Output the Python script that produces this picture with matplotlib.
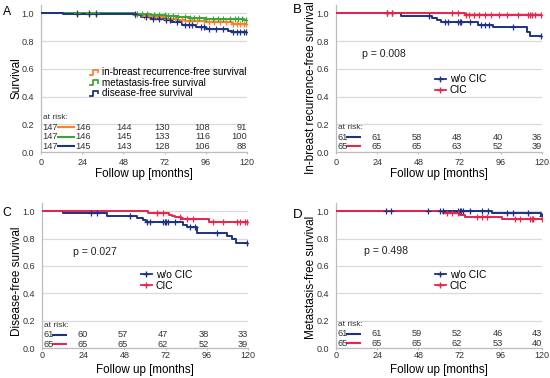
import matplotlib
matplotlib.use("Agg")
import matplotlib.pyplot as plt
import numpy as np
from matplotlib.lines import Line2D
from matplotlib.legend_handler import HandlerBase

plt.rcParams['font.family'] = ['Liberation Sans', 'DejaVu Sans']

# colours
ORANGE = '#ff7f2a'
GREEN = '#3aa637'
BLUE = '#1c3282'
RED = '#e8254f'

# ---- panel A : whole cohort ----
ibr_t = [0, 54, 58, 65, 72, 79, 84, 96, 111]
ibr_s = [1.0, 0.988, 0.978, 0.970, 0.962, 0.955, 0.946, 0.940, 0.922]
ibr_c = [21, 28, 32, 55, 60, 63, 67, 70, 73, 75, 78, 82, 86, 88, 91, 95, 98, 101, 104, 108, 112, 114, 116, 118, 119.5]
mfs_t = [0, 55, 64, 73, 80, 87, 96, 103, 118]
mfs_s = [1.0, 0.993, 0.986, 0.979, 0.972, 0.966, 0.960, 0.956, 0.950]
mfs_c = [21, 28, 32, 56, 59, 62, 66, 69, 72, 74, 77, 80, 84, 87, 89, 92, 96, 100, 103, 106, 110, 113, 115, 117, 119.5]
dfs_t = [0, 13, 56, 58, 64, 72, 76, 82, 90, 96, 109, 111]
dfs_s = [1.0, 0.993, 0.986, 0.973, 0.959, 0.952, 0.938, 0.918, 0.900, 0.890, 0.872, 0.862]
dfs_c = [21, 28, 32, 55, 61, 65, 69, 73, 75, 79, 84, 86, 88, 93, 95, 98, 102, 106, 112, 114, 116, 118, 119.5]
a_labels = ['in-breast recurrence-free survival', 'metastasis-free survival', 'disease-free survival']
a_risk = [[147, 146, 144, 130, 108, 91],
          [147, 146, 145, 133, 116, 100],
          [147, 145, 143, 128, 106, 88]]

# ---- panel B : in-breast recurrence-free ----
b_wo_t = [0, 38, 55.7, 58.6, 61, 82.7, 91.5, 111, 113]
b_wo_s = [1.0, 0.984, 0.967, 0.951, 0.934, 0.916, 0.898, 0.868, 0.836]
b_wo_c = [29.5, 32.5, 54, 63.5, 65, 71, 72, 73, 78, 84.5, 87, 89, 103, 119.7]
b_cic_t = [0, 75]
b_cic_s = [1.0, 0.985]
b_cic_c = [29.5, 32.5, 67.4, 71, 75.8, 77.4, 80.3, 83.2, 87, 90, 94.8, 99.6, 106, 112, 113, 114, 116, 119.5]
b_risk = [[61, 61, 58, 48, 40, 36], [65, 65, 65, 63, 52, 39]]

# ---- panel C : disease-free ----
c_wo_t = [0, 12.4, 37.7, 55.5, 58.6, 60.5, 82.3, 84.5, 90.5, 107.5, 110.5, 113]
c_wo_s = [1.0, 0.984, 0.967, 0.951, 0.934, 0.918, 0.900, 0.882, 0.840, 0.820, 0.800, 0.765]
c_wo_c = [28.4, 31.8, 51.2, 61, 63, 70.5, 71.5, 72.5, 73.4, 77.5, 86.2, 89, 101.7, 119.2]
c_cic_t = [0, 62, 74, 76, 77.5, 81, 97]
c_cic_s = [1.0, 0.985, 0.970, 0.962, 0.955, 0.940, 0.923]
c_cic_c = [66.8, 70.6, 80.4, 84.3, 88.1, 99.8, 105.6, 113.4, 115.3, 118.2, 119.6]
c_risk = [[61, 60, 57, 47, 38, 33], [65, 65, 65, 62, 52, 39]]

# ---- panel D : metastasis-free ----
d_wo_t = [0, 90.7, 119.2]
d_wo_s = [1.0, 0.984, 0.962]
d_wo_c = [29, 32, 53.8, 60.6, 62.3, 71, 72, 73, 74, 78, 85, 88.7, 99.4, 103.3, 112, 119.8]
d_cic_t = [0, 62.5, 72.5, 75, 96.5]
d_cic_s = [1.0, 0.985, 0.970, 0.958, 0.940]
d_cic_c = [64.4, 67.3, 71.2, 82, 84.9, 87.8, 104.3, 107.2, 113, 114, 115, 119.8]
d_risk = [[61, 61, 59, 52, 46, 43], [65, 65, 65, 62, 53, 40]]

groups = ['w/o CIC', 'CIC']
p_values = ['p = 0.008', 'p = 0.027', 'p = 0.498']
xticks = [0, 24, 48, 72, 96, 120]


class StepHandler(HandlerBase):
    """ KM-style step glyph for the legend of panel A """
    def create_artists(self, legend, orig_handle, xdescent, ydescent,
                       width, height, fontsize, trans):
        x = np.array([0, 0.3, 0.3, 0.85, 0.85]) * width - xdescent
        y = np.array([0.1, 0.1, 0.8, 0.8, 0.45]) * height - ydescent
        l = Line2D(x, y, color=orig_handle.get_color(), lw=1.3)
        l.set_transform(trans)
        return [l]


def km(ax, t, s, cens, color):
    t = list(t) + [120]
    s = list(s) + [s[-1]]
    ax.step(t, s, where='post', color=color, lw=1.4, zorder=3)
    cy = [s[np.searchsorted(t, c, side='right') - 1] for c in cens]
    ax.plot(cens, cy, ls='none', marker='+', ms=4, mew=0.9, color=color, zorder=4)


def style(ax, ylabel, ylab_y=0.5, xpad=2.5):
    ax.set_xlim(0, 120)
    ax.set_ylim(0, 1.06)
    ax.set_xticks(xticks)
    ax.set_yticks([0, 0.2, 0.4, 0.6, 0.8, 1.0])
    ax.set_yticklabels(['0.0', '0.2', '0.4', '0.6', '0.8', '1.0'])
    ax.grid(axis='y', color='#d9d9d9', lw=0.9)
    ax.set_axisbelow(True)
    for sp in ['top', 'right']:
        ax.spines[sp].set_visible(False)
    for sp in ['left', 'bottom']:
        ax.spines[sp].set_color('#bdbdbd')
        ax.spines[sp].set_linewidth(0.9)
    ax.tick_params(axis='y', length=0, pad=5, labelsize=6.5, labelcolor='#333333')
    ax.tick_params(axis='x', length=1.5, width=0.8, color='#bdbdbd', pad=xpad,
                   labelsize=6.5, labelcolor='#333333')
    ax.set_xlabel('Follow up [months]', fontsize=8.4)
    ax.xaxis.set_label_coords(0.5, -0.108)
    ax.set_ylabel(ylabel, fontsize=8.5)
    ax.yaxis.set_label_coords(-0.092, ylab_y)


def risk_table(ax, rows, colors, ys, head_y, seg, cols):
    ax.text(1, head_y, 'at risk:', fontsize=6.0, color='#333333', va='center')
    for row, c, y in zip(rows, colors, ys):
        ax.text(0.8, y, str(row[0]), fontsize=6.7, color='#333333', va='center', ha='left')
        ax.plot(seg, [y, y], color=c, lw=1.5, solid_capstyle='butt')
        for v, x in zip(row[1:-1], cols):
            ax.text(x, y, str(v), fontsize=6.7, color='#333333', va='center', ha='center')
        ax.text(120, y, str(row[-1]), fontsize=6.7, color='#333333', va='center', ha='right')


fig = plt.figure(figsize=(5.5, 3.78), dpi=100)

axA = fig.add_axes([41 / 550, 226 / 378, 206 / 550, 147 / 378])
axB = fig.add_axes([336 / 550, 226 / 378, 206 / 550, 147 / 378])
axC = fig.add_axes([42 / 550, 30 / 378, 206 / 550, 145 / 378])
axD = fig.add_axes([336 / 550, 30 / 378, 206 / 550, 145 / 378])

# A
km(axA, ibr_t, ibr_s, ibr_c, ORANGE)
km(axA, mfs_t, mfs_s, mfs_c, GREEN)
km(axA, dfs_t, dfs_s, dfs_c, BLUE)
style(axA, 'Survival')
hA = [Line2D([], [], color=c) for c in [ORANGE, GREEN, BLUE]]
axA.legend(hA, a_labels, handler_map={Line2D: StepHandler()}, loc='center left',
           bbox_to_anchor=(28.5, 0.499), bbox_transform=axA.transData, frameon=False,
           fontsize=7.1, handlelength=1.0, handletextpad=0.2, labelspacing=0.05,
           borderpad=0, borderaxespad=0)
risk_table(axA, a_risk, [ORANGE, GREEN, BLUE], [0.177, 0.109, 0.042], 0.249,
           [9.3, 20], [24.5, 48.5, 70.5, 94])

# B, C, D
panels = [
    (axB, b_wo_t, b_wo_s, b_wo_c, b_cic_t, b_cic_s, b_cic_c, b_risk,
     'In-breast recurrence-free survival', 0.44, p_values[0], (15, 0.71), 0.484,
     [0.108, 0.04], 0.18, 2.5),
    (axC, c_wo_t, c_wo_s, c_wo_c, c_cic_t, c_cic_s, c_cic_c, c_risk,
     'Disease-free survival', 0.46, p_values[1], (18, 0.703), 0.494,
     [0.097, 0.029], 0.168, 1.0),
    (axD, d_wo_t, d_wo_s, d_wo_c, d_cic_t, d_cic_s, d_cic_c, d_risk,
     'Metastasis-free survival', 0.486, p_values[2], (16.3, 0.708), 0.495,
     [0.104, 0.036], 0.175, 1.0),
]
for (ax, wt, ws, wc, ct, cs, cc, risk, ylab, ly, ptxt, ppos, legy, rys, hy, xp) in panels:
    km(ax, wt, ws, wc, BLUE)
    km(ax, ct, cs, cc, RED)
    style(ax, ylab, ly, xp)
    ax.text(ppos[0], ppos[1], ptxt, fontsize=7.6, color='#222222', va='center')
    hs = [Line2D([], [], color=c, lw=1.3, marker='+', ms=5, mew=1.0) for c in [BLUE, RED]]
    ax.legend(hs, groups, loc='center left', bbox_to_anchor=(57.5, legy),
              bbox_transform=ax.transData, frameon=False, fontsize=7.4,
              handlelength=1.1, handletextpad=0.35, labelspacing=0.1,
              borderpad=0, borderaxespad=0, numpoints=1)
    risk_table(ax, risk, [BLUE, RED], rys, hy, [6, 14.5], [23.5, 47, 70.5, 94.5])

# panel letters
fig.text(3 / 550, 1 - 15 / 378, 'A', fontsize=8.8, va='baseline')
fig.text(293 / 550, 1 - 13 / 378, 'B', fontsize=9.5, va='baseline')
fig.text(2 / 550, 1 - 216 / 378, 'C', fontsize=8.8, va='baseline')
fig.text(293 / 550, 1 - 218 / 378, 'D', fontsize=9.5, va='baseline')

fig.savefig('out.png', dpi=100)
